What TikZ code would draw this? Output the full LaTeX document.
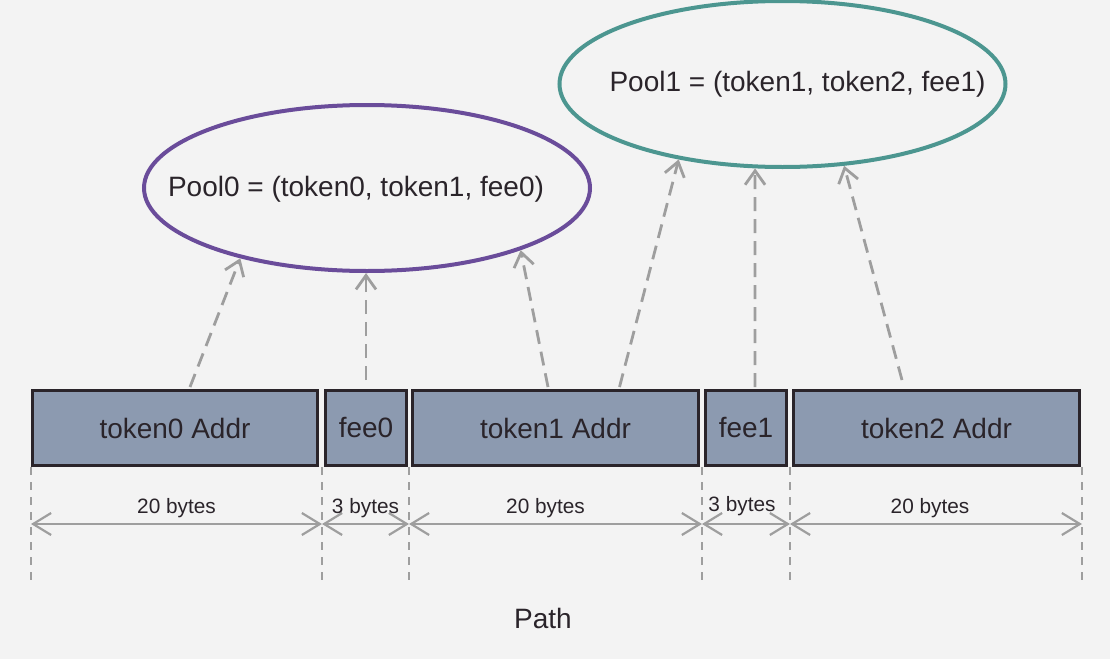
\documentclass[tikz,border=0pt]{standalone}
\usepackage{fontspec}
\setmainfont{Liberation Sans}
\usepackage{xcolor}
\usepackage{tikz}
\usetikzlibrary{positioning, arrows.meta, shapes.geometric, calc}

\definecolor{bgpaper}{RGB}{243,243,243}
\definecolor{fieldfill}{RGB}{140,154,176}
\definecolor{fieldline}{RGB}{42,36,42}
\definecolor{inkdark}{RGB}{42,36,42}
\definecolor{poolpurple}{RGB}{106,76,154}
\definecolor{poolteal}{RGB}{76,150,144}
\definecolor{linkgray}{RGB}{158,158,158}

\tikzset{
  field/.style={draw=fieldline, fill=fieldfill, line width=1.5pt, minimum height=37.5pt, inner sep=0pt, text=inkdark, font=\fontsize{14}{16}\selectfont},
  pool/.style={ellipse, line width=2pt, minimum width=223pt, minimum height=83pt, inner sep=0pt},
  pooltext/.style={text=inkdark, font=\fontsize{14}{16}\selectfont},
  link/.style={draw=linkgray, line width=1.4pt, dash pattern=on 7pt off 4pt, -{Straight Barb[length=7pt,width=10pt]}},
  guide/.style={draw=linkgray, line width=1.2pt, dash pattern=on 4pt off 3.5pt},
  dimline/.style={draw=linkgray, line width=1.1pt, {Straight Barb[length=9pt,width=11pt]}-{Straight Barb[length=9pt,width=11pt]}},
  bytes/.style={text=inkdark, font=\fontsize{10.4}{12}\selectfont, yshift=8pt}
}

\begin{document}
\begin{tikzpicture}[x=0.5pt, y=-0.5pt]
  \fill[bgpaper] (0,0) rectangle (1110,659);
  \useasboundingbox (0,0) rectangle (1110,659);

  % pools
  \node[pool, draw=poolpurple] (pool0) at (367,188) {};
  \node[pooltext] at (356,189) {Pool0 = (token0, token1, fee0)};
  \node[pool, draw=poolteal] (pool1) at (782.5,84) {};
  \node[pooltext] at (797.5,84) {Pool1 = (token1, token2, fee1)};

  % path fields
  \node[field, minimum width=142.5pt] (t0) at (175,428) {token0 Addr};
  \node[field, minimum width=40.5pt] (f0) at (366,428) {fee0};
  \node[field, minimum width=143pt] (t1) at (555.5,428) {token1 Addr};
  \node[field, minimum width=40.5pt] (f1) at (746,428) {fee1};
  \node[field, minimum width=143pt] (t2) at (936.5,428) {token2 Addr};

  \draw[link] ([xshift=7.5pt,yshift=1pt]t0.north) -- (pool0.209);
  \draw[link] ([yshift=4.5pt]f0.north) -- (f0.north |- pool0.south);
  \draw[link] ([xshift=-3.75pt,yshift=1pt]t1.north) -- (pool0.-22);
  \draw[link] ([xshift=32pt,yshift=1pt]t1.north) -- (pool1.216.7);
  \draw[link] ([xshift=4.5pt,yshift=1pt]f1.north) -- (pool1.252.2);
  \draw[link] ([xshift=-17.25pt,yshift=4.5pt]t2.north) -- (pool1.307.7);

  % sizes
  \foreach \x [count=\i from 0] in {31,322,409,702,790,1082} {
    \coordinate (m\i) at (\x,524);
    \draw[guide] (\x,467) -- (\x,582);
  }
  \draw[dimline] (m0) -- node[bytes] {20 bytes} (m1);
  \draw[dimline] (m1) -- node[bytes] {3 bytes} (m2);
  \draw[dimline] (m2) -- node[bytes, xshift=-5pt] {20 bytes} (m3);
  \draw[dimline] (m3) -- node[bytes, xshift=-2pt, yshift=1pt] {3 bytes} (m4);
  \draw[dimline] (m4) -- node[bytes, xshift=-3pt] {20 bytes} (m5);

  \node[pooltext] (path) at (543,618) {Path};
\end{tikzpicture}
\end{document}
